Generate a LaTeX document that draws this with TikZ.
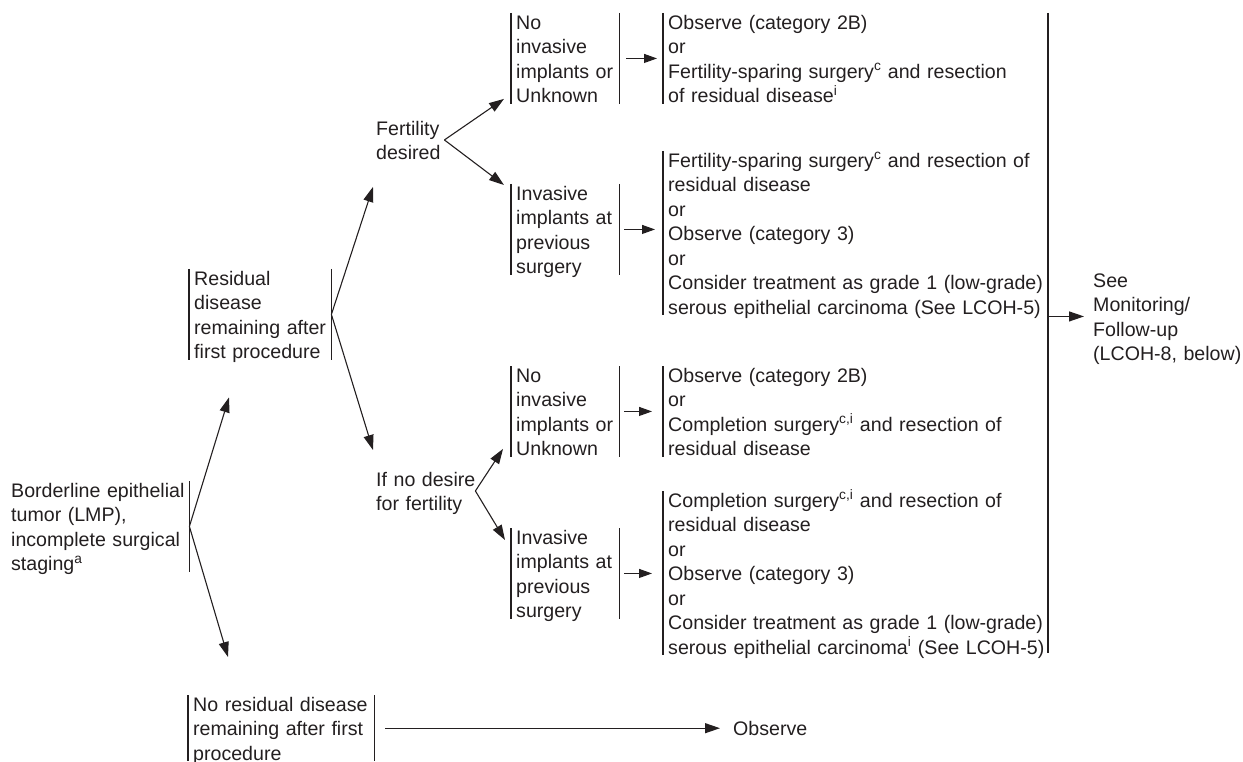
\documentclass[tikz,border=0pt]{standalone}
\usepackage{fontspec}
\setmainfont{Liberation Sans}
\usetikzlibrary{arrows.meta,calc}
\definecolor{ink}{HTML}{231F20}
\begin{document}
\begin{tikzpicture}[x=1pt,y=-1pt,
  every node/.style={font=\fontsize{19.6pt}{24.5pt}\selectfont, text=ink},
  box/.style={anchor=north west, inner xsep=5pt, inner ysep=0pt, text height=16pt, align=left,
    execute at begin node={\hyphenpenalty=10000\exhyphenpenalty=10000}},
  lone/.style={text depth=1pt}, ltwo/.style={text depth=25.5pt}, lthree/.style={text depth=50pt},
  lfour/.style={text depth=74.5pt}, lseven/.style={text depth=148pt},
  bar/.style={draw=ink, line width=1.1pt},
  arr/.style={draw=ink, line width=1.1pt, -{Triangle[length=15pt,width=10pt]}},
  sarr/.style={draw=ink, line width=1.1pt, -{Triangle[length=13pt,width=9pt]}}]
\useasboundingbox (0,0) rectangle (1243,762);

\node[box,lfour,inner xsep=3pt,text width=175pt] (bord) at (8,481) {Borderline epithelial\\tumor (LMP),\\incomplete surgical\\staging\textsuperscript{a}};
\node[box,lfour,text width=132pt] (res) at (189,269) {Residual\\disease\\remaining after\\first procedure};
\node[box,lthree,text width=176pt] (nr) at (188,695) {No residual disease\\remaining after first\\procedure};
\node[box,ltwo,text width=63pt] (fd) at (371,119) {Fertility\\desired};
\node[box,ltwo,text width=100pt] (nd) at (371,470) {If no desire\\for fertility};
\node[box,lfour,text width=98pt] (ni1) at (511,13) {No\\invasive\\implants or\\Unknown};
\node[box,lfour,text width=98pt] (iv1) at (511,184) {Invasive\\implants at\\previous\\surgery};
\node[box,lfour,text width=98pt] (ni2) at (511,366) {No\\invasive\\implants or\\Unknown};
\node[box,lfour,text width=98pt] (iv2) at (511,528) {Invasive\\implants at\\previous\\surgery};
\node[box,lfour,text width=400pt] (r1) at (663,13) {Observe (category 2B)\\or\\Fertility-sparing surgery\textsuperscript{c} and resection\\of residual disease\textsuperscript{i}};
\node[box,lseven,text width=400pt] (r2) at (663,151) {Fertility-sparing surgery\textsuperscript{c} and resection of\\residual disease\\or\\Observe (category 3)\\or\\Consider treatment as grade 1 (low-grade)\\serous epithelial carcinoma (See LCOH-5)};
\node[box,lfour,text width=400pt] (r3) at (663,366) {Observe (category 2B)\\or\\Completion surgery\textsuperscript{c,i} and resection of\\residual disease};
\node[box,lseven,text width=400pt] (r4) at (663,491) {Completion surgery\textsuperscript{c,i} and resection of\\residual disease\\or\\Observe (category 3)\\or\\Consider treatment as grade 1 (low-grade)\\serous epithelial carcinoma\textsuperscript{i} (See LCOH-5)};
\node[box,lone,text width=90pt] (obs) at (728,719) {Observe};
\node[box,lfour,text width=150pt] (see) at (1088,271) {See\\Monitoring/\\Follow-up\\(LCOH-8, below)};

% brackets
\draw[bar] (bord.north east) -- (bord.south east);
\foreach \n in {res,nr,ni1,iv1,ni2,iv2}{
  \draw[bar] (\n.north west) -- (\n.south west) (\n.north east) -- (\n.south east);
}
\foreach \n in {r1,r2,r3,r4}{
  \draw[bar] (\n.north west) -- (\n.south west);
}
\coordinate (bt) at ($(r1.north west)+(385,0)$);
\coordinate (bb) at ($(r4.south west)+(385,-2)$);
\draw[bar] (bt) -- (bb);
\coordinate (barmid) at (bt |- see.west);

% forks
\coordinate (fdv) at (fd.east);
\coordinate (ndv) at ($(nd.east)+(-6,0)$);
\draw[arr] (bord.east) -- ($(res.south west)+(40,37.5)$);
\draw[arr] (bord.east) -- ($(nr.north west)+(40,-38)$);
\draw[arr] (res.east) -- ($(fd.south west)+(2,26)$);
\draw[arr] (res.east) -- ($(nd.north west)+(2,-20)$);
\draw[arr] (fdv) -- ($(ni1.south west)+(-7,-5)$);
\draw[arr] (fdv) -- ($(iv1.north west)+(-7,1)$);
\draw[arr] (ndv) -- ($(ni2.south west)+(-8,-8)$);
\draw[arr] (ndv) -- ($(iv2.north west)+(-6,12)$);

% small arrows
\draw[sarr, shorten <=7pt, shorten >=6pt] (ni1.east) -- (ni1.east -| r1.west);
\draw[sarr, shorten <=5pt, shorten >=8pt] (iv1.east) -- (iv1.east -| r2.west);
\draw[sarr, shorten <=5pt, shorten >=11pt] (ni2.east) -- (ni2.east -| r3.west);
\draw[sarr, shorten <=5pt, shorten >=11pt] (iv2.east) -- (iv2.east -| r4.west);

\draw[arr, shorten <=11pt, shorten >=8pt] (nr.east) -- (nr.east -| obs.west);
\draw[arr, shorten >=4pt] (barmid) -- (see.west);
\end{tikzpicture}
\end{document}
